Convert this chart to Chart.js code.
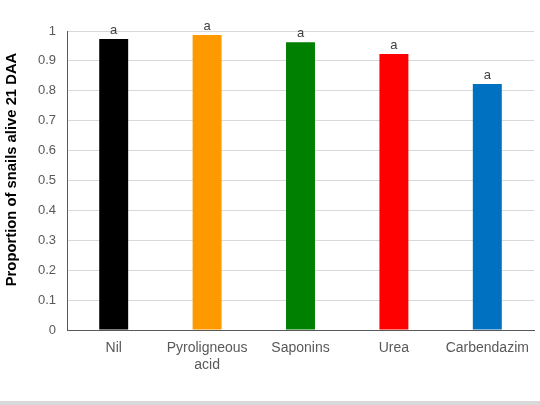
<!DOCTYPE html>
<html>
<head>
<meta charset="utf-8">
<script src="https://cdn.jsdelivr.net/npm/chart.js@4.4.0/dist/chart.umd.min.js"></script>
<style>
  html, body { margin: 0; padding: 0; background: #fff; }
  #wrap { position: relative; width: 540px; height: 405px; }
  #strip { position: absolute; left: 0; top: 401px; width: 540px; height: 4px; background: #d9d9d9; }
</style>
</head>
<body>
<div id="wrap">
  <canvas id="chart" width="540" height="405"></canvas>
  <div id="strip"></div>
</div>
<script>
// data
const treatments = ['Nil', ['Pyroligneous', 'acid'], 'Saponins', 'Urea', 'Carbendazim'];
const proportionAlive = [0.973, 0.987, 0.962, 0.923, 0.823];
const letters = ['a', 'a', 'a', 'a', 'a'];
const barColors = ['#000000', '#ff9900', '#008000', '#ff0000', '#0070c0'];
const yTicks = [0, 0.1, 0.2, 0.3, 0.4, 0.5, 0.6, 0.7, 0.8, 0.9, 1];
const yTitle = 'Proportion of snails alive 21 DAA';

const FONT = '"Liberation Sans", Arial, sans-serif';

// significance letters above each bar
const letterPlugin = {
  id: 'letters',
  afterDatasetsDraw(chart) {
    const ctx = chart.ctx;
    const meta = chart.getDatasetMeta(0);
    ctx.save();
    ctx.font = '13px ' + FONT;
    ctx.fillStyle = '#404040';
    ctx.textAlign = 'center';
    ctx.textBaseline = 'alphabetic';
    meta.data.forEach((bar, i) => ctx.fillText(letters[i], bar.x, bar.y - 5));
    ctx.restore();
  }
};

// y axis title, sits a little above the plot centre like the original
const yTitlePlugin = {
  id: 'yTitle',
  afterDraw(chart) {
    const ctx = chart.ctx;
    const area = chart.chartArea;
    ctx.save();
    ctx.translate(12, (area.top + area.bottom) / 2 - 11);
    ctx.rotate(-Math.PI / 2);
    ctx.font = 'bold 14.8px ' + FONT;
    ctx.fillStyle = '#000000';
    ctx.textAlign = 'center';
    ctx.textBaseline = 'middle';
    ctx.fillText(yTitle, 0, 0);
    ctx.restore();
  }
};

new Chart(document.getElementById('chart').getContext('2d'), {
  type: 'bar',
  data: {
    labels: treatments,
    datasets: [{
      data: proportionAlive,
      backgroundColor: barColors,
      borderWidth: 0,
      categoryPercentage: 1,
      barPercentage: 0.31
    }]
  },
  options: {
    responsive: false,
    animation: false,
    layout: { padding: { top: 31, right: 6, bottom: 0, left: 0 } },
    plugins: {
      legend: { display: false },
      tooltip: { enabled: false }
    },
    scales: {
      x: {
        grid: { display: false, drawTicks: false },
        border: { color: '#595959', width: 1 },
        ticks: { color: '#595959', font: { family: FONT, size: 14 }, padding: 10, maxRotation: 0 },
        afterFit: (s) => { s.height = 75; }
      },
      y: {
        min: 0,
        max: 1,
        afterBuildTicks: (s) => { s.ticks = yTicks.map((v) => ({ value: v })); },
        grid: { color: '#d9d9d9', drawTicks: false },
        border: { color: '#595959', width: 1 },
        ticks: {
          color: '#595959',
          font: { family: FONT, size: 13 },
          padding: 11,
          callback: (v) => String(+v.toFixed(1))
        },
        afterFit: (s) => { s.width = 67; }
      }
    }
  },
  plugins: [letterPlugin, yTitlePlugin]
});
</script>
</body>
</html>
